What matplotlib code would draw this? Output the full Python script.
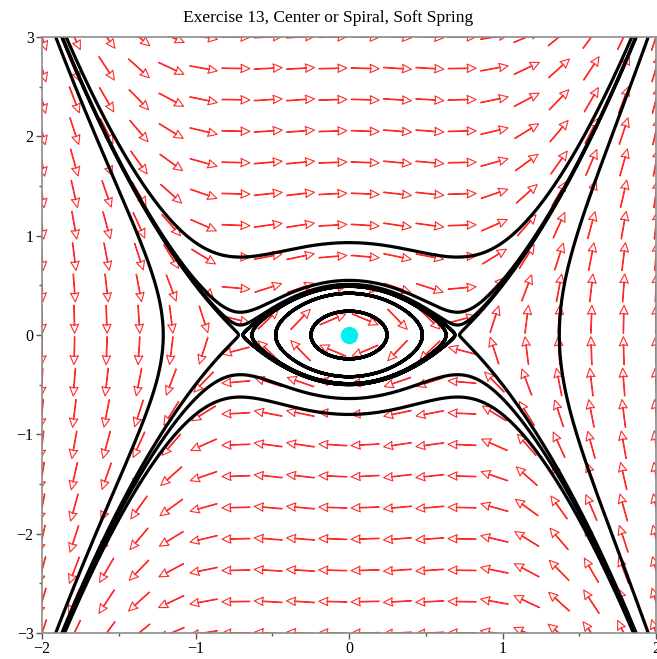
import numpy as np
import matplotlib
matplotlib.use("Agg")
import matplotlib.pyplot as plt

# Soft spring: x' = y, y' = -x + 2 x^3
# initial conditions of the drawn trajectories
ic_x = [0.0, 0.0, 0.0, 0.0, 0.0, 0.0, 0.0, 0.0, -1.21, 1.37, -0.72, 0.72, -0.69, 0.69]
ic_y = [0.24, 0.42, 0.49, 0.51, 0.55, 0.93, -0.64, -0.80, 0.0, 0.0, 0.0, 0.0, 0.0, 0.0]

# equilibrium shown as a dot
eq_x = [0.0]
eq_y = [0.0]

x_ticks = [-2, -1, 0, 1, 2]
y_ticks = [-3, -2, -1, 0, 1, 2, 3]
n_arrows = 20

plt.rcParams['font.family'] = ['Liberation Serif', 'DejaVu Serif']
plt.rcParams['axes.unicode_minus'] = True


def field(x, y):
    return y, -x + 2 * x ** 3


def trace(x0, y0, dt, steps=9000):
    xs, ys = [x0], [y0]
    x, y = x0, y0
    for _ in range(steps):
        k1 = field(x, y)
        k2 = field(x + dt / 2 * k1[0], y + dt / 2 * k1[1])
        k3 = field(x + dt / 2 * k2[0], y + dt / 2 * k2[1])
        k4 = field(x + dt * k3[0], y + dt * k3[1])
        x += dt / 6 * (k1[0] + 2 * k2[0] + 2 * k3[0] + k4[0])
        y += dt / 6 * (k1[1] + 2 * k2[1] + 2 * k3[1] + k4[1])
        xs.append(x)
        ys.append(y)
        if abs(x) > 2.2 or abs(y) > 3.3:
            break
    return np.array(xs), np.array(ys)


fig = plt.figure(figsize=(6.57, 6.59), dpi=100)
ax = fig.add_axes([42 / 657, 26 / 659, 614 / 657, 596 / 659])

# direction field, all arrows same length on screen
gx, gy = np.meshgrid(np.linspace(-2, 2, n_arrows), np.linspace(-3, 3, n_arrows))
u, v = field(gx, gy)
mag = np.hypot(u, v)
ax.quiver(gx, gy, u / mag, v / mag, angles='xy', pivot='middle',
          scale_units='inches', scale=1 / 0.28, units='inches', width=0.006,
          headwidth=14, headlength=15, headaxislength=13.5,
          facecolor='none', edgecolor='#ff2a2a', linewidth=0.8, zorder=1)

for x0, y0 in zip(ic_x, ic_y):
    fx, fy = trace(x0, y0, 0.002)
    bx, by = trace(x0, y0, -0.002)
    px = np.concatenate([bx[::-1], fx[1:]])
    py = np.concatenate([by[::-1], fy[1:]])
    ax.plot(px, py, color='black', linewidth=2.3, zorder=2)

ax.plot(eq_x, eq_y, 'o', color='#00f0f0', markersize=11.5, zorder=3)

ax.set_xlim(-2, 2)
ax.set_ylim(-3, 3)
ax.set_xticks(x_ticks)
ax.set_yticks(y_ticks)
ax.set_xticks(np.arange(-1.5, 2, 1.0), minor=True)
ax.set_yticks(np.arange(-2.5, 3, 1.0), minor=True)
ax.tick_params(which='major', length=4, width=1, color='#555555', labelsize=11.5, pad=2)
ax.tick_params(which='minor', length=2.5, width=1, color='#555555')
for s in ax.spines.values():
    s.set_color('#8c8c8c')
    s.set_linewidth(1.2)

fig.text(0.5, 0.973, 'Exercise 13, Center or Spiral, Soft Spring',
         ha='center', va='center', fontsize=12.5)

fig.savefig('out.png', dpi=100)
